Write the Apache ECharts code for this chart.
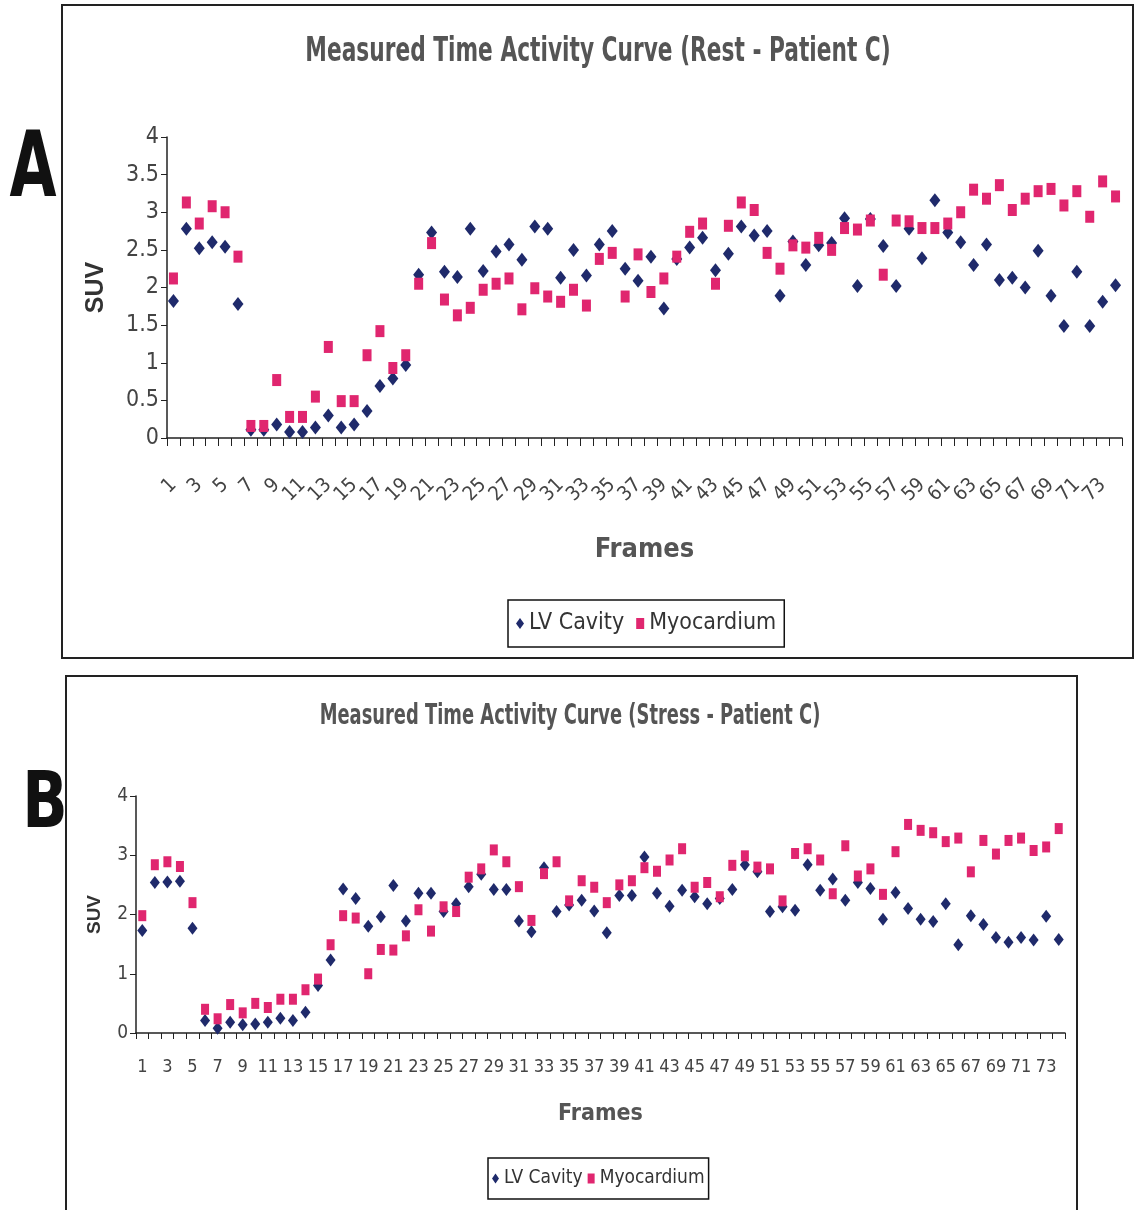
<!DOCTYPE html>
<html>
<head>
<meta charset="utf-8">
<script src="https://cdn.jsdelivr.net/npm/echarts@6/dist/echarts.min.js"></script>
<style>
html,body{margin:0;padding:0;background:#fff;}
#c{width:1135px;height:1210px;}
</style>
</head>
<body>
<div id="c"></div>
<script>
var frames = ['1','2','3','4','5','6','7','8','9','10','11','12','13','14','15','16','17','18','19','20',
'21','22','23','24','25','26','27','28','29','30','31','32','33','34','35','36','37','38','39','40',
'41','42','43','44','45','46','47','48','49','50','51','52','53','54','55','56','57','58','59','60',
'61','62','63','64','65','66','67','68','69','70','71','72','73','74'];

var restLV = [1.82,2.78,2.52,2.60,2.54,1.78,0.11,0.11,0.18,0.08,
0.08,0.14,0.30,0.14,0.18,0.36,0.69,0.79,0.97,2.17,
2.73,2.21,2.14,2.78,2.22,2.48,2.57,2.37,2.81,2.78,
2.13,2.50,2.16,2.57,2.75,2.25,2.09,2.41,1.72,2.38,
2.53,2.66,2.23,2.45,2.81,2.69,2.75,1.89,2.61,2.30,
2.56,2.59,2.92,2.02,2.91,2.55,2.02,2.78,2.39,3.16,
2.73,2.60,2.30,2.57,2.10,2.13,2.00,2.49,1.89,1.49,
2.21,1.49,1.81,2.03];

var restMyo = [2.12,3.13,2.85,3.08,3.00,2.41,0.16,0.16,0.77,0.28,
0.28,0.55,1.21,0.49,0.49,1.10,1.42,0.93,1.10,2.05,
2.59,1.84,1.63,1.73,1.97,2.05,2.12,1.71,1.99,1.88,
1.81,1.97,1.76,2.38,2.46,1.88,2.44,1.94,2.12,2.41,
2.74,2.85,2.05,2.82,3.13,3.03,2.46,2.25,2.56,2.53,
2.66,2.50,2.79,2.77,2.89,2.17,2.89,2.88,2.79,2.79,
2.85,3.00,3.30,3.18,3.36,3.03,3.18,3.28,3.31,3.09,
3.28,2.94,3.41,3.21];

var stressLV = [1.73,2.54,2.55,2.56,1.77,0.21,0.08,0.18,0.14,0.15,
0.18,0.25,0.21,0.35,0.80,1.23,2.43,2.27,1.80,1.96,
2.49,1.89,2.36,2.36,2.05,2.18,2.47,2.68,2.42,2.42,
1.89,1.71,2.79,2.05,2.16,2.24,2.06,1.69,2.32,2.32,
2.97,2.36,2.14,2.41,2.30,2.18,2.27,2.42,2.84,2.72,
2.05,2.13,2.07,2.84,2.41,2.60,2.24,2.54,2.44,1.92,
2.37,2.10,1.92,1.88,2.18,1.49,1.98,1.83,1.61,1.53,
1.61,1.57,1.97,1.58];

var stressMyo = [1.98,2.84,2.89,2.81,2.20,0.40,0.24,0.48,0.34,0.50,
0.43,0.57,0.57,0.73,0.91,1.49,1.98,1.94,1.00,1.41,
1.40,1.64,2.08,1.72,2.13,2.05,2.63,2.77,3.09,2.89,
2.47,1.90,2.69,2.89,2.23,2.57,2.46,2.20,2.50,2.57,
2.79,2.73,2.92,3.11,2.46,2.54,2.30,2.83,2.99,2.80,
2.77,2.23,3.03,3.11,2.92,2.35,3.16,2.65,2.77,2.34,
3.06,3.52,3.42,3.38,3.23,3.29,2.72,3.25,3.02,3.25,
3.29,3.08,3.14,3.45];

var restTicksMax = 4, restTickStep = 0.5;
var stressTicksMax = 4, stressTickStep = 1;

var NARROW = "'DejaVu Sans Condensed','Liberation Sans Narrow',sans-serif";
var NAVY = '#1f2a6b';
var PINK = '#e0266f';

function everyOther(index) { return index % 2 === 0; }
function oddFrameLabel(value, index) { return index % 2 === 0 ? value : ''; }

var chart = echarts.init(document.getElementById('c'), null, {renderer:'canvas'});

var option = {
  backgroundColor: '#ffffff',
  animation: false,
  graphic: [
    {type: 'rect', shape: {x: 62, y: 5, width: 1071, height: 653}, style: {fill: 'none', stroke: '#222', lineWidth: 2}, silent: true},
    {type: 'rect', shape: {x: 66, y: 676, width: 1011, height: 560}, style: {fill: 'none', stroke: '#222', lineWidth: 2}, silent: true},
    {type: 'text', x: 598, y: 52, scaleX: 0.71, silent: true,
     style: {text: 'Measured Time Activity Curve (Rest - Patient C)', align: 'center', verticalAlign: 'middle',
             textAlign: 'center', textVerticalAlign: 'middle',
             fontFamily: NARROW, fontWeight: 'bold', fontSize: 34, fill: '#555555'}},
    {type: 'text', x: 570, y: 717, scaleX: 0.71, silent: true,
     style: {text: 'Measured Time Activity Curve (Stress - Patient C)', align: 'center', verticalAlign: 'middle',
             textAlign: 'center', textVerticalAlign: 'middle',
             fontFamily: NARROW, fontWeight: 'bold', fontSize: 28, fill: '#555555'}},
    {type: 'text', x: 33, y: 173, scaleX: 0.75, silent: true,
     style: {text: 'A', align: 'center', verticalAlign: 'middle', textAlign: 'center', textVerticalAlign: 'middle',
             fontFamily: NARROW, fontWeight: 'bold', fontSize: 90, fill: '#111'}},
    {type: 'text', x: 45, y: 807, scaleX: 0.85, silent: true,
     style: {text: 'B', align: 'center', verticalAlign: 'middle', textAlign: 'center', textVerticalAlign: 'middle',
             fontFamily: NARROW, fontWeight: 'bold', fontSize: 78, fill: '#111'}}
  ],
  legend: [
    {data: [{name: 'LV Cavity', icon: 'diamond'}, {name: 'Myocardium', icon: 'rect'}],
     left: 508, top: 600, orient: 'horizontal', itemWidth: 8, itemHeight: 11, itemGap: 12,
     padding: [12, 8, 12, 8], borderColor: '#111', borderWidth: 1.5,
     textStyle: {fontFamily: NARROW, fontSize: 23, color: '#333'}},
    {data: [{name: 'LV Cavity', icon: 'diamond'}, {name: 'Myocardium', icon: 'rect'}],
     left: 488, top: 1158, orient: 'horizontal', itemWidth: 7, itemHeight: 10, itemGap: 5,
     padding: [11, 4, 11, 4], borderColor: '#111', borderWidth: 1.5,
     textStyle: {fontFamily: NARROW, fontSize: 19, color: '#333'}}
  ],
  grid: [
    {left: 167, top: 137, width: 955, height: 301, containLabel: false},
    {left: 136, top: 796, width: 929, height: 237, containLabel: false}
  ],
  xAxis: [
    {type: 'category', gridIndex: 0, data: frames, boundaryGap: true,
     axisLine: {lineStyle: {color: '#222', width: 1.5}},
     axisTick: {show: true, interval: 0, length: 8, lineStyle: {color: '#222'}},
     axisLabel: {interval: 0, formatter: oddFrameLabel, showMinLabel: true, showMaxLabel: true, hideOverlap: false,
                 rotate: 45, margin: 44, fontFamily: NARROW, fontSize: 20, color: '#444'},
     name: 'Frames', nameLocation: 'middle', nameGap: 98,
     nameTextStyle: {fontFamily: NARROW, fontWeight: 'bold', fontSize: 27, color: '#555'}},
    {type: 'category', gridIndex: 1, data: frames, boundaryGap: true,
     axisLine: {lineStyle: {color: '#222', width: 1.5}},
     axisTick: {show: true, interval: 0, length: 6, lineStyle: {color: '#222'}},
     axisLabel: {interval: everyOther, showMinLabel: true, showMaxLabel: true, hideOverlap: false, margin: 25,
                 fontFamily: NARROW, fontSize: 18, color: '#444'},
     name: 'Frames', nameLocation: 'middle', nameGap: 70,
     nameTextStyle: {fontFamily: NARROW, fontWeight: 'bold', fontSize: 23, color: '#555'}}
  ],
  yAxis: [
    {type: 'value', gridIndex: 0, min: 0, max: restTicksMax, interval: restTickStep,
     axisLine: {show: true, lineStyle: {color: '#222', width: 1.5}},
     axisTick: {show: true, length: 6, lineStyle: {color: '#222'}},
     splitLine: {show: false},
     axisLabel: {margin: 8, fontFamily: NARROW, fontSize: 23, color: '#444'},
     name: 'SUV', nameLocation: 'middle', nameRotate: 90, nameGap: 58,
     nameTextStyle: {fontFamily: 'Liberation Sans, Arial, sans-serif', fontWeight: 'bold', fontSize: 25, color: '#333'}},
    {type: 'value', gridIndex: 1, min: 0, max: stressTicksMax, interval: stressTickStep,
     axisLine: {show: true, lineStyle: {color: '#222', width: 1.5}},
     axisTick: {show: true, length: 6, lineStyle: {color: '#222'}},
     splitLine: {show: false},
     axisLabel: {margin: 8, fontFamily: NARROW, fontSize: 19, color: '#444'},
     name: 'SUV', nameLocation: 'middle', nameRotate: 90, nameGap: 32,
     nameTextStyle: {fontFamily: 'Liberation Sans, Arial, sans-serif', fontWeight: 'bold', fontSize: 19, color: '#333'}}
  ],
  series: [
    {name: 'LV Cavity', type: 'scatter', xAxisIndex: 0, yAxisIndex: 0, data: restLV,
     symbol: 'diamond', symbolSize: [11, 14], itemStyle: {color: NAVY, opacity: 1}},
    {name: 'Myocardium', type: 'scatter', xAxisIndex: 0, yAxisIndex: 0, data: restMyo,
     symbol: 'rect', symbolSize: [9, 12], itemStyle: {color: PINK, opacity: 1}},
    {name: 'LV Cavity', type: 'scatter', xAxisIndex: 1, yAxisIndex: 1, data: stressLV,
     symbol: 'diamond', symbolSize: [10, 13], itemStyle: {color: NAVY, opacity: 1}},
    {name: 'Myocardium', type: 'scatter', xAxisIndex: 1, yAxisIndex: 1, data: stressMyo,
     symbol: 'rect', symbolSize: [8, 11], itemStyle: {color: PINK, opacity: 1}}
  ]
};
chart.setOption(option);
</script>
</body>
</html>
